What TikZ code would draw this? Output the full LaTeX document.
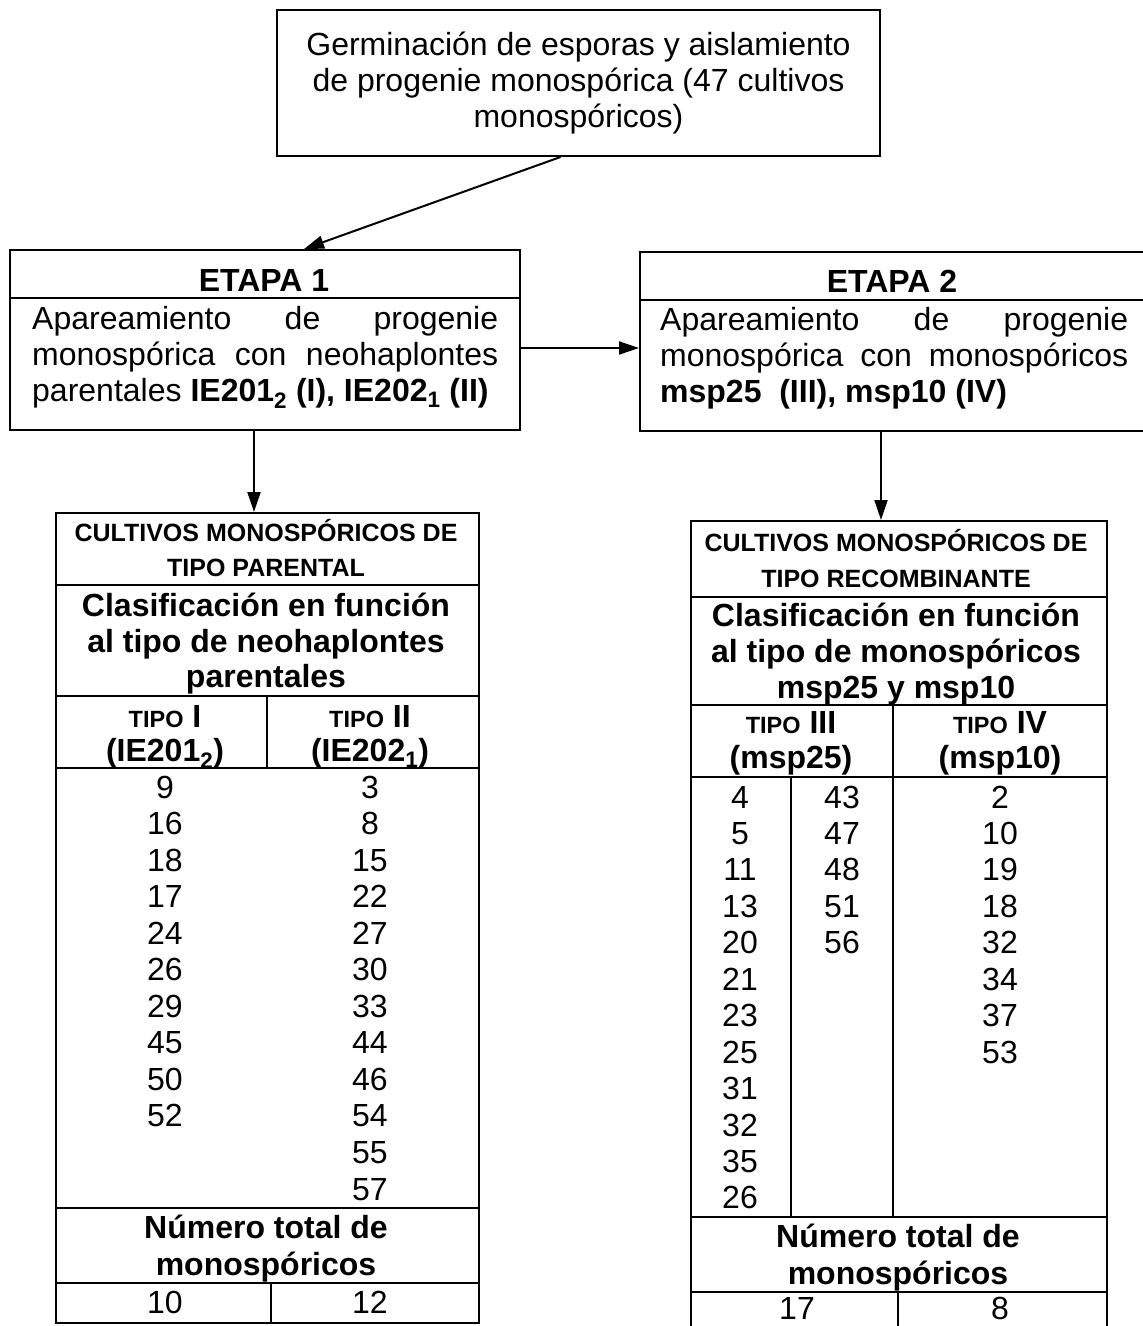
\documentclass[tikz,border=0pt]{standalone}
\usepackage{fontspec}
\setmainfont{Liberation Sans}
\usetikzlibrary{arrows.meta,positioning}

\tikzset{
  caja/.style={draw, line width=2pt, inner sep=0pt},
  texto/.style={font=\fontsize{32}{36}\selectfont, inner sep=0pt, anchor=base},
  negr/.style={font=\bfseries\fontsize{32}{36}\selectfont, inner sep=0pt, anchor=base},
  titulo/.style={font=\bfseries\fontsize{25}{35}\selectfont, inner sep=0pt, anchor=base},
  linea/.style={line width=1.6pt},
  flecha/.style={line width=2pt, -{Triangle[length=20pt,width=13pt]}},
}
\newcommand{\tipo}[1]{{\fontsize{23.5}{30}\selectfont TIPO} #1}

\begin{document}
\begin{tikzpicture}[x=1pt,y=-1pt]
    \useasboundingbox (0,0) rectangle (1143,1326);

    % Caja superior
    \node[caja, minimum width=603, minimum height=146, align=center,
          font=\fontsize{32}{36}\selectfont] (germ) at (578.5,83)
        {Germinación de esporas y aislamiento\\de progenie monospórica (47 cultivos\\monospóricos)};

    % Etapa 1
    \node[caja, minimum width=510, minimum height=180, anchor=north west] (etapa1) at (9,249) {};
    \draw[linea] ([yshift=-49pt]etapa1.north west) -- ([yshift=-49pt]etapa1.north east);
    \node[negr] at (264,291) {ETAPA 1};
    \node[texto, anchor=base west] at (32,329) {\makebox[466pt][s]{Apareamiento de progenie}};
    \node[texto, anchor=base west] at (32,365) {\makebox[466pt][s]{monospórica con neohaplontes}};
    \node[texto, anchor=base west] at (32,401) {parentales \textbf{IE201\textsubscript{2} (I), IE202\textsubscript{1} (II)}};

    % Etapa 2
    \node[caja, minimum width=506, minimum height=179, anchor=north west] (etapa2) at (639,251) {};
    \draw[linea] ([yshift=-49pt]etapa2.north west) -- ([yshift=-49pt]etapa2.north east);
    \node[negr] at (892,292) {ETAPA 2};
    \node[texto, anchor=base west] at (660,330) {\makebox[468pt][s]{Apareamiento de progenie}};
    \node[texto, anchor=base west] at (660,366) {\makebox[468pt][s]{monospórica con monospóricos}};
    \node[texto, anchor=base west] at (660,402) {\textbf{msp25 \ (III), msp10 (IV)}};

    % Tablas
    \node[caja, minimum width=423, minimum height=810, anchor=north west] (tabla1) at (55,512) {};
    \node[caja, minimum width=416, minimum height=820, anchor=north west] (tabla2) at (690,520) {};

    % Flechas
    \draw[flecha] ([xshift=-18pt]germ.south) -- ([xshift=39pt]etapa1.north);
    \draw[flecha] ([yshift=-8pt]etapa1.east) -- ([yshift=-8pt]etapa1.east -| etapa2.west);
    \draw[flecha] ([xshift=-11pt]etapa1.south) -- ([xshift=-11pt]etapa1.south |- tabla1.north);
    \draw[flecha] ([xshift=-12pt]etapa2.south) -- ([xshift=-12pt]etapa2.south |- tabla2.north);

    % Tabla 1: tipo parental
    \foreach \y in {585,696,768,1208,1283}
        \draw[linea] (55,\y) -- (478,\y);
    \draw[linea] (267,696) -- (267,768);
    \draw[linea] (271,1283) -- (271,1322);
    \node[titulo] at (266,541) {CULTIVOS MONOSPÓRICOS DE};
    \node[titulo] at (266,576) {TIPO PARENTAL};
    \node[negr] at (266,616) {Clasificación en función};
    \node[negr] at (266,652) {al tipo de neohaplontes};
    \node[negr] at (266,687) {parentales};
    \node[negr] at (165,727) {\tipo{I}};
    \node[negr] at (165,761) {(IE201\textsubscript{2})};
    \node[negr] at (370,727) {\tipo{II}};
    \node[negr] at (370,761) {(IE202\textsubscript{1})};
    \foreach \n [count=\i from 0] in {9,16,18,17,24,26,29,45,50,52}
        \node[texto] at (165,{798+36.55*\i}) {\n};
    \foreach \n [count=\i from 0] in {3,8,15,22,27,30,33,44,46,54,55,57}
        \node[texto] at (370,{798+36.55*\i}) {\n};
    \node[negr] at (266,1238) {Número total de};
    \node[negr] at (266,1275) {monospóricos};
    \node[texto] at (165,1313) {10};
    \node[texto] at (370,1313) {12};

    % Tabla 2: tipo recombinante
    \foreach \y in {597,705,777,1217,1292}
        \draw[linea] (690,\y) -- (1106,\y);
    \draw[linea] (893,705) -- (893,1217);
    \draw[linea] (791,777) -- (791,1217);
    \draw[linea] (898,1292) -- (898,1340);
    \node[titulo] at (896,551) {CULTIVOS MONOSPÓRICOS DE};
    \node[titulo] at (896,587) {TIPO RECOMBINANTE};
    \node[negr] at (896,626) {Clasificación en función};
    \node[negr] at (896,662) {al tipo de monospóricos};
    \node[negr] at (896,698) {msp25 y msp10};
    \node[negr] at (791,733) {\tipo{III}};
    \node[negr] at (791,768) {(msp25)};
    \node[negr] at (1000,733) {\tipo{IV}};
    \node[negr] at (1000,768) {(msp10)};
    \foreach \n [count=\i from 0] in {4,5,11,13,20,21,23,25,31,32,35,26}
        \node[texto] at (740,{808+36.45*\i}) {\n};
    \foreach \n [count=\i from 0] in {43,47,48,51,56}
        \node[texto] at (842,{808+36.45*\i}) {\n};
    \foreach \n [count=\i from 0] in {2,10,19,18,32,34,37,53}
        \node[texto] at (1000,{808+36.45*\i}) {\n};
    \node[negr] at (898,1247) {Número total de};
    \node[negr] at (898,1284) {monospóricos};
    \node[texto] at (797,1319) {17};
    \node[texto] at (1000,1319) {8};
\end{tikzpicture}
\end{document}
